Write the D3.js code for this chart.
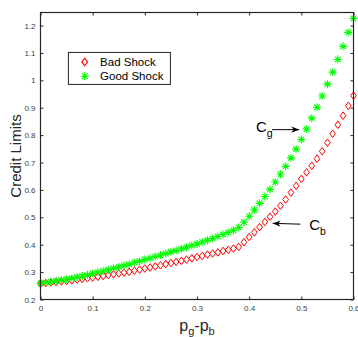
<!DOCTYPE html>
<html>
<head>
<meta charset="utf-8">
<script src="https://cdn.jsdelivr.net/npm/d3@7"></script>
<style>
  html, body { margin: 0; padding: 0; background: #fff; }
  svg { display: block; font-family: "Liberation Sans", Arial, sans-serif; }
</style>
</head>
<body>
<svg id="chart" width="358" height="337"></svg>
<script>
// p_g - p_b grid
const pDiff = [
  0.00, 0.01, 0.02, 0.03, 0.04, 0.05, 0.06, 0.07, 0.08, 0.09,
  0.10, 0.11, 0.12, 0.13, 0.14, 0.15, 0.16, 0.17, 0.18, 0.19,
  0.20, 0.21, 0.22, 0.23, 0.24, 0.25, 0.26, 0.27, 0.28, 0.29,
  0.30, 0.31, 0.32, 0.33, 0.34, 0.35, 0.36, 0.37, 0.38, 0.39,
  0.40, 0.41, 0.42, 0.43, 0.44, 0.45, 0.46, 0.47, 0.48, 0.49,
  0.50, 0.51, 0.52, 0.53, 0.54, 0.55, 0.56, 0.57, 0.58, 0.59,
  0.60
];

// credit limit under bad shock (C_b)
const badShock = [
  0.258, 0.260, 0.262, 0.264, 0.266, 0.268, 0.270, 0.273, 0.275, 0.278,
  0.280, 0.283, 0.286, 0.289, 0.292, 0.295, 0.298, 0.301, 0.305, 0.309,
  0.313, 0.317, 0.321, 0.325, 0.329, 0.333, 0.337, 0.341, 0.346, 0.350,
  0.355, 0.359, 0.364, 0.368, 0.372, 0.377, 0.381, 0.386, 0.392, 0.409,
  0.428, 0.445, 0.464, 0.483, 0.502, 0.521, 0.542, 0.565, 0.590, 0.615,
  0.640, 0.664, 0.688, 0.714, 0.741, 0.772, 0.805, 0.838, 0.871, 0.907,
  0.944
];

// credit limit under good shock (C_g)
const goodShock = [
  0.259, 0.262, 0.265, 0.268, 0.271, 0.274, 0.278, 0.282, 0.286, 0.290,
  0.295, 0.300, 0.304, 0.309, 0.314, 0.319, 0.324, 0.329, 0.335, 0.340,
  0.346, 0.351, 0.357, 0.362, 0.368, 0.374, 0.379, 0.385, 0.391, 0.397,
  0.403, 0.410, 0.416, 0.423, 0.430, 0.437, 0.445, 0.453, 0.463, 0.482,
  0.504, 0.527, 0.551, 0.576, 0.602, 0.629, 0.657, 0.686, 0.717, 0.749,
  0.784, 0.822, 0.862, 0.902, 0.943, 0.986, 1.030, 1.076, 1.124, 1.175,
  1.226
];

const xTicks = [0, 0.1, 0.2, 0.3, 0.4, 0.5, 0.6];
const yTicks = [0.2, 0.3, 0.4, 0.5, 0.6, 0.7, 0.8, 0.9, 1, 1.1, 1.2];
const legendLabels = ['Bad Shock', 'Good Shock'];

const axisColor = '#262626';
const red = '#ff0000';
const green = '#00ff00';

const margin = { top: 12.5, right: 4.5, bottom: 37.5, left: 40.5 };
const svg = d3.select('#chart');
const width = +svg.attr('width') - margin.left - margin.right;
const height = +svg.attr('height') - margin.top - margin.bottom;

const g = svg.append('g')
  .attr('transform', `translate(${margin.left},${margin.top})`);

// Scales
const xScale = d3.scaleLinear().domain([0, 0.6]).range([0, width]);
const yScale = d3.scaleLinear().domain([0.2, 1.2476]).range([height, 0]);

// Marker shapes (MATLAB style)
const diamondPath = (s) => `M0,${-s}L${s * 0.75},0L0,${s}L${-s * 0.75},0Z`;
const starPath = (s) => {
  const d = s * 0.7071;
  return `M${-s},0L${s},0M0,${-s}L0,${s}M${-d},${-d}L${d},${d}M${-d},${d}L${d},${-d}`;
};

// Axes (ticks point inward)
const fmt = d => d3.format('')(+d.toFixed(1));

g.append('g')
  .attr('class', 'x-axis')
  .attr('transform', `translate(0,${height})`)
  .call(d3.axisBottom(xScale).tickValues(xTicks).tickSizeInner(-3).tickSizeOuter(0).tickPadding(6).tickFormat(fmt));

g.append('g')
  .attr('class', 'x-axis-top')
  .call(d3.axisTop(xScale).tickValues(xTicks).tickSizeInner(-3).tickSizeOuter(0).tickFormat(''));

g.append('g')
  .attr('class', 'y-axis')
  .call(d3.axisLeft(yScale).tickValues(yTicks).tickSizeInner(-3).tickSizeOuter(0).tickPadding(5).tickFormat(fmt));

g.append('g')
  .attr('class', 'y-axis-right')
  .attr('transform', `translate(${width},0)`)
  .call(d3.axisRight(yScale).tickValues(yTicks).tickSizeInner(-3).tickSizeOuter(0).tickFormat(''));

g.selectAll('.domain').remove();
g.selectAll('.tick line').attr('stroke', axisColor).attr('stroke-width', 1);
g.selectAll('.tick text')
  .attr('fill', '#404040')
  .style('font-size', '8px')
  .style('font-family', '"Liberation Sans", Arial, sans-serif');

// Series
const plot = g.append('g').attr('class', 'series');

plot.selectAll('.bad')
  .data(pDiff.map((p, i) => [p, badShock[i]]))
  .enter()
  .append('path')
  .attr('class', 'bad')
  .attr('d', diamondPath(3.8))
  .attr('transform', d => `translate(${xScale(d[0])},${yScale(d[1])})`)
  .attr('fill', 'none')
  .attr('stroke', red)
  .attr('stroke-width', 1);

plot.selectAll('.good')
  .data(pDiff.map((p, i) => [p, goodShock[i]]))
  .enter()
  .append('path')
  .attr('class', 'good')
  .attr('d', starPath(4))
  .attr('transform', d => `translate(${xScale(d[0])},${yScale(d[1])})`)
  .attr('fill', 'none')
  .attr('stroke', green)
  .attr('stroke-width', 1.1);

// Box
g.append('rect')
  .attr('width', width)
  .attr('height', height)
  .attr('fill', 'none')
  .attr('stroke', axisColor)
  .attr('stroke-width', 1.2);

// Axis labels
svg.append('text')
  .attr('transform', `translate(21,${margin.top + height / 2}) rotate(-90)`)
  .attr('text-anchor', 'middle')
  .attr('fill', axisColor)
  .style('font-size', '15px')
  .text('Credit Limits');

const xl = svg.append('text')
  .attr('x', margin.left + width / 2)
  .attr('y', 331)
  .attr('text-anchor', 'middle')
  .attr('fill', axisColor)
  .style('font-size', '16px');
xl.append('tspan').text('p');
xl.append('tspan').attr('dy', 4).style('font-size', '11px').text('g');
xl.append('tspan').attr('dy', -4).text('-p');
xl.append('tspan').attr('dy', 4).style('font-size', '11px').text('b');

// Legend
const legend = g.append('g')
  .attr('transform', `translate(${xScale(0.0535)},${yScale(1.1)})`);

legend.append('rect')
  .attr('x', 0).attr('y', -0.5)
  .attr('width', 102).attr('height', 32)
  .attr('fill', '#fff')
  .attr('stroke', axisColor)
  .attr('stroke-width', 1);

legendLabels.forEach((label, i) => {
  const row = legend.append('g').attr('transform', `translate(0,${9 + i * 14.3})`);
  row.append('path')
    .attr('d', i === 0 ? diamondPath(3.8) : starPath(4))
    .attr('transform', 'translate(16.3,0)')
    .attr('fill', 'none')
    .attr('stroke', i === 0 ? red : green)
    .attr('stroke-width', 1.1);
  row.append('text')
    .attr('x', 31.7)
    .attr('dy', '0.36em')
    .attr('fill', '#000')
    .style('font-size', '11.5px')
    .text(label);
});

// Annotations C_g and C_b
svg.append('defs').append('marker')
  .attr('id', 'arrow')
  .attr('viewBox', '0 -5 10 10')
  .attr('refX', 10).attr('refY', 0)
  .attr('markerWidth', 8).attr('markerHeight', 8)
  .attr('markerUnits', 'userSpaceOnUse')
  .attr('orient', 'auto')
  .append('path')
  .attr('d', 'M0,-4L10,0L0,4L3,0Z')
  .attr('fill', '#000');

const notes = [
  { label: 'g', tx: xScale(0.413), ty: yScale(0.83), from: [0.444, 0.82], to: [0.496, 0.82] },
  { label: 'b', tx: xScale(0.515), ty: yScale(0.475), from: [0.498, 0.475], to: [0.445, 0.478] }
];

notes.forEach(n => {
  g.append('line')
    .attr('x1', xScale(n.from[0])).attr('y1', yScale(n.from[1]))
    .attr('x2', xScale(n.to[0])).attr('y2', yScale(n.to[1]))
    .attr('stroke', '#000')
    .attr('stroke-width', 1)
    .attr('marker-end', 'url(#arrow)');
  const t = g.append('text')
    .attr('x', n.tx)
    .attr('y', n.ty)
    .attr('dy', '0.36em')
    .attr('fill', '#000')
    .style('font-size', '15px');
  t.append('tspan').text('C');
  t.append('tspan').attr('dy', 5).style('font-size', '10.5px').text(n.label);
});
</script>
</body>
</html>
